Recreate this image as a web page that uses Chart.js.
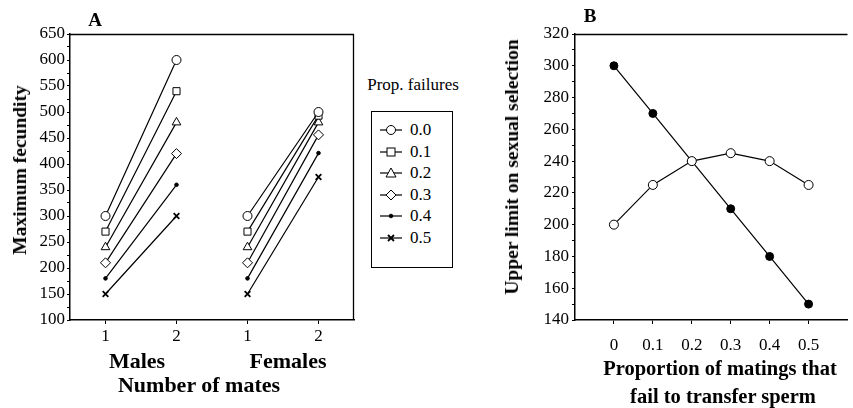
<!DOCTYPE html>
<html>
<head>
<meta charset="utf-8">
<script src="https://cdn.jsdelivr.net/npm/chart.js@4.4.1/dist/chart.umd.min.js"></script>
<style>
  body { margin: 0; background: #fff; width: 853px; height: 408px; overflow: hidden; position: relative; font-family: "Liberation Serif", serif; color: #000; }
  canvas { position: absolute; top: 0; }
  .t { position: absolute; transform: translate(-50%, -50%); white-space: nowrap; }
  .b { font-weight: bold; }
  .rot { transform: translate(-50%, -50%) rotate(-90deg); }
  #legend { position: absolute; left: 371px; top: 111px; width: 82px; height: 157px; border: 1px solid #000; box-sizing: border-box; }
  .row { position: absolute; left: 8px; height: 20px; display: flex; align-items: center; font-size: 17px; }
  .row svg { margin-right: 8px; }
</style>
</head>
<body>
<canvas id="chartA" width="360" height="408" style="left:0"></canvas>
<canvas id="chartB" width="373" height="408" style="left:480px"></canvas>

<div class="t b" style="left:95px;top:20px;font-size:19px">A</div>
<div class="t b" style="left:590px;top:16px;font-size:19px">B</div>
<div class="t b rot" style="left:20px;top:170px;font-size:19.5px">Maximum fecundity</div>
<div class="t b rot" style="left:512px;top:167px;font-size:19.5px">Upper limit on sexual selection</div>
<div class="t b" style="left:137px;top:361px;font-size:22px">Males</div>
<div class="t b" style="left:288px;top:361px;font-size:22px">Females</div>
<div class="t b" style="left:199px;top:385px;font-size:22px">Number of mates</div>
<div class="t b" style="left:720px;top:368px;font-size:20.5px">Proportion of matings that</div>
<div class="t b" style="left:723px;top:396px;font-size:20.5px">fail to transfer sperm</div>
<div class="t" style="left:413px;top:85px;font-size:17px">Prop. failures</div>
<div id="legend"></div>

<script>
// panel A: fecundity with 1 or 2 mates, one line per proportion of failures
const propFailures = ['0.0', '0.1', '0.2', '0.3', '0.4', '0.5'];
const malesOneMate = [300, 270, 240, 210, 180, 150];
const malesTwoMates = [600, 540, 480, 420, 360, 300];
const femalesOneMate = [300, 270, 240, 210, 180, 150];
const femalesTwoMates = [500, 493, 480, 456, 421, 375];
const mateTicks = ['1', '2', '1', '2'];

// panel B
const failProps = [0, 0.1, 0.2, 0.3, 0.4, 0.5];
const openSeries = [200, 225, 240, 245, 240, 225];
const filledSeries = [300, 270, 240, 210, 180, 150];

const markers = [
  { style: 'circle', r: 4.5, fill: '#fff' },
  { style: 'rect', r: 5, fill: '#fff' },
  { style: 'triangle', r: 5, fill: '#fff' },
  { style: 'rectRot', r: 5, fill: '#fff' },
  { style: 'circle', r: 1.8, fill: '#000' },
  { style: 'crossRot', r: 4, fill: '#000' }
];

const serif = "'Liberation Serif', 'Times New Roman', serif";

// draw the missing sides of the frame
const framePlugin = {
  id: 'frame',
  afterDraw(chart, args, opts) {
    const a = chart.chartArea, ctx = chart.ctx;
    ctx.save();
    ctx.strokeStyle = '#000';
    ctx.lineWidth = 1.3;
    ctx.beginPath();
    ctx.moveTo(a.left, a.top + 0.5);
    ctx.lineTo(a.right, a.top + 0.5);
    if (opts.right) {
      ctx.moveTo(a.right - 0.5, a.top);
      ctx.lineTo(a.right - 0.5, a.bottom);
    }
    ctx.stroke();
    ctx.restore();
  }
};

const dsA = propFailures.map(function(p, i) {
  const m = markers[i];
  return {
    label: p,
    data: [
      { x: 1, y: malesOneMate[i] }, { x: 2, y: malesTwoMates[i] },
      { x: 2.5, y: null },
      { x: 3, y: femalesOneMate[i] }, { x: 4, y: femalesTwoMates[i] }
    ],
    borderColor: '#000',
    borderWidth: 1.2,
    pointStyle: m.style,
    pointRadius: m.r,
    pointBackgroundColor: m.fill,
    pointBorderColor: '#000',
    pointBorderWidth: i == 5 ? 1.8 : 1,
    spanGaps: false,
    clip: false
  };
});

new Chart(document.getElementById('chartA'), {
  type: 'line',
  data: { datasets: dsA },
  options: {
    responsive: false,
    animation: false,
    layout: { padding: { left: 0, right: 6, top: 34, bottom: 58 } },
    plugins: { legend: { display: false }, tooltip: { enabled: false }, frame: { right: true } },
    scales: {
      x: {
        type: 'linear', min: 0.5, max: 4.5,
        afterBuildTicks: function(s) { s.ticks = [1, 2, 3, 4].map(v => ({ value: v })); },
        afterFit: function(s) { s.height = 30; },
        ticks: { color: '#000', font: { family: serif, size: 17 }, padding: 2, maxRotation: 0,
          callback: function(v) { return mateTicks[v - 1]; } },
        grid: { drawOnChartArea: false, drawTicks: true, tickLength: 4, color: '#000' },
        border: { color: '#000', width: 1.5 }
      },
      y: {
        min: 100, max: 650,
        afterBuildTicks: function(s) {
          const t = [];
          for (let v = 100; v <= 650; v += 25) t.push({ value: v });
          s.ticks = t;
        },
        afterFit: function(s) { s.width = 70; },
        ticks: { color: '#000', font: { family: serif, size: 17 }, padding: 2, autoSkip: false,
          callback: function(v) { return v % 50 == 0 ? v : ''; } },
        grid: { drawOnChartArea: false, drawTicks: true, tickLength: 3, color: '#000' },
        border: { color: '#000', width: 1.5 }
      }
    }
  },
  plugins: [framePlugin]
});

new Chart(document.getElementById('chartB'), {
  type: 'line',
  data: {
    datasets: [
      {
        data: failProps.map((x, i) => ({ x: x, y: openSeries[i] })),
        borderColor: '#000', borderWidth: 1.2,
        pointStyle: 'circle', pointRadius: 4.5,
        pointBackgroundColor: '#fff', pointBorderColor: '#000', pointBorderWidth: 1,
        clip: false
      },
      {
        data: failProps.map((x, i) => ({ x: x, y: filledSeries[i] })),
        borderColor: '#000', borderWidth: 1.2,
        pointStyle: 'circle', pointRadius: 4,
        pointBackgroundColor: '#000', pointBorderColor: '#000', pointBorderWidth: 1,
        clip: false
      }
    ]
  },
  options: {
    responsive: false,
    animation: false,
    layout: { padding: { left: 0, right: 0, top: 34, bottom: 58 } },
    plugins: { legend: { display: false }, tooltip: { enabled: false }, frame: { right: false } },
    scales: {
      x: {
        type: 'linear', min: -0.1, max: 0.6,
        afterBuildTicks: function(s) { s.ticks = failProps.map(v => ({ value: v })); },
        afterFit: function(s) { s.height = 30; },
        ticks: { color: '#000', font: { family: serif, size: 17 }, padding: 11, maxRotation: 0,
          callback: function(v) { return v == 0 ? '0' : v.toFixed(1); } },
        grid: { drawOnChartArea: false, drawTicks: true, tickLength: 4, color: '#000' },
        border: { color: '#000', width: 1.5 }
      },
      y: {
        min: 140, max: 320,
        afterBuildTicks: function(s) {
          const t = [];
          for (let v = 140; v <= 320; v += 10) t.push({ value: v });
          s.ticks = t;
        },
        afterFit: function(s) { s.width = 95; },
        ticks: { color: '#000', font: { family: serif, size: 17 }, padding: 3, autoSkip: false,
          callback: function(v) { return v % 20 == 0 ? v : ''; } },
        grid: { drawOnChartArea: false, drawTicks: true, tickLength: 3, color: '#000' },
        border: { color: '#000', width: 1.5 }
      }
    }
  },
  plugins: [framePlugin]
});

// legend for panel A, icons built from the same marker list
const legend = document.getElementById('legend');
function icon(m) {
  const c = 11, s = m.r;
  let shape = '';
  if (m.style == 'circle') shape = '<circle cx="' + c + '" cy="8" r="' + s + '" fill="' + m.fill + '" stroke="#000"/>';
  if (m.style == 'rect') shape = '<rect x="' + (c - 4) + '" y="4" width="8" height="8" fill="#fff" stroke="#000"/>';
  if (m.style == 'triangle') shape = '<polygon points="' + c + ',3 ' + (c + 5) + ',12 ' + (c - 5) + ',12" fill="#fff" stroke="#000"/>';
  if (m.style == 'rectRot') shape = '<polygon points="' + c + ',3 ' + (c + 5) + ',8 ' + c + ',13 ' + (c - 5) + ',8" fill="#fff" stroke="#000"/>';
  if (m.style == 'crossRot') shape = '<path d="M' + (c - 3) + ',5 L' + (c + 3) + ',11 M' + (c + 3) + ',5 L' + (c - 3) + ',11" stroke="#000" stroke-width="1.8"/>';
  return '<svg width="22" height="16"><line x1="0" y1="8" x2="22" y2="8" stroke="#000" stroke-width="1.2"/>' + shape + '</svg>';
}
propFailures.forEach(function(p, i) {
  const row = document.createElement('div');
  row.className = 'row';
  row.style.top = (8 + i * 21.6) + 'px';
  row.innerHTML = icon(markers[i]) + '<span>' + p + '</span>';
  legend.appendChild(row);
});
</script>
</body>
</html>
